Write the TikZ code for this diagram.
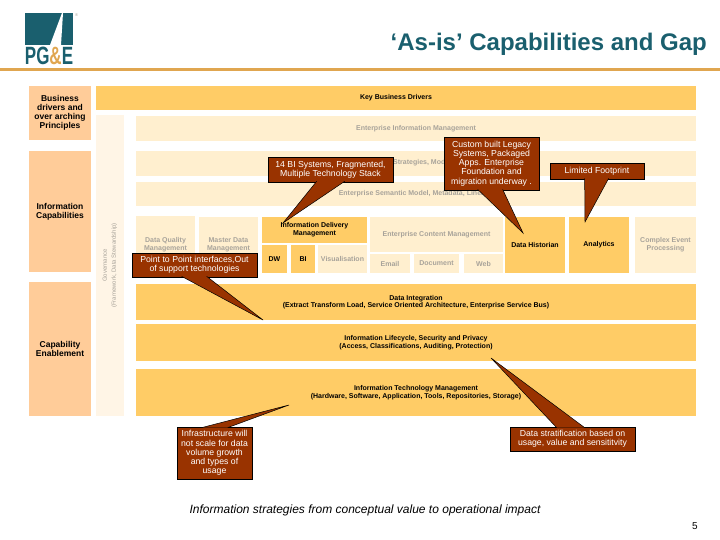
\documentclass[tikz,border=0pt]{standalone}
\usepackage{fontspec}
\setmainfont{Liberation Sans}
\usepackage{xcolor}
\usetikzlibrary{positioning}

\definecolor{teal}{HTML}{1A5F6E}
\definecolor{rule}{HTML}{E0A650}
\definecolor{strong}{HTML}{FFCC66}
\definecolor{pale}{HTML}{FFEFCF}
\definecolor{peach}{HTML}{FFCC99}
\definecolor{palest}{HTML}{FFF5E6}
\definecolor{rust}{HTML}{993300}
\definecolor{fade}{HTML}{A8A39A}

\tikzset{
  box/.style={inner sep=0pt, align=center, font=\fontsize{7}{7.6}\selectfont\bfseries},
  strongbox/.style={box, fill=strong, text=black},
  palebox/.style={box, fill=pale, text=fade},
  sidebox/.style={box, fill=peach, text=black, font=\fontsize{8.5}{9.1}\selectfont\bfseries},
  note/.style={draw=black, line width=.7pt, fill=rust, text=white, inner sep=0pt, align=center,
    font=\fontsize{8.7}{9.2}\selectfont},
  pointer/.style={draw=black, line width=.5pt, fill=rust}
}

\begin{document}
\begin{tikzpicture}[x=1pt, y=-1pt]

\useasboundingbox (0,0) rectangle (720,540);

% header
\fill[rule] (0,67.7) rectangle (720,70.7);
\node[anchor=east, inner sep=0pt, text=teal, font=\fontsize{24}{26}\selectfont\bfseries] (title) at (707,44.5) {‘As-is’ Capabilities and Gap};

% logo
\fill[teal] (25,13) rectangle (73,45);
\fill[white] (62,13) -- (63,13) -- (61,45) -- (50,45) -- cycle;
\node[inner sep=0pt, xscale=.68, font=\fontsize{25}{25}\selectfont\bfseries, text=teal] (logo) at (49,56) {PG\textcolor{rule}{\&}E};
\node[inner sep=0pt, text=fade, font=\fontsize{4}{4}\selectfont] (reg) at (76.5,15) {®};

% left column
\node[sidebox, minimum width=62, minimum height=54] (drivers) at (60,113) {Business\\drivers and\\over arching\\Principles};
\node[sidebox, minimum width=62, minimum height=121] (capabilities) at (60,211.5) {Information\\Capabilities};
\node[sidebox, minimum width=62, minimum height=134] (enablement) at (60,349) {Capability\\Enablement};

% governance
\node[box, fill=palest, minimum width=28, minimum height=301] (governancebox) at (110,265.5) {};
\node[text=fade, inner sep=0pt, align=center, rotate=90, font=\fontsize{6}{9}\selectfont] (governance) at (110,265.5) {Governance\\(Framework, Data Stewardship)};

% wide rows
\node[strongbox, minimum width=600, minimum height=24] (key) at (396,98) {Key Business Drivers};
\node[palebox, minimum width=560, minimum height=25] (eim) at (416,128.5) {Enterprise Information Management};
\node[palebox, minimum width=560, minimum height=25] (strategies) at (416,163.5) {};
\node[text=fade, inner sep=0pt, anchor=west, font=\fontsize{7}{7.6}\selectfont\bfseries] (strategiestext) at (393,163) {Strategies, Mod};
\node[palebox, minimum width=560, minimum height=24] (semantic) at (416,194) {Enterprise Semantic Model, Metadata, Lineage};

% middle row
\node[palebox, minimum width=59, minimum height=57] (quality) at (165.5,244.5) {Data Quality\\Management};
\node[palebox, minimum width=59, minimum height=56] (master) at (228.5,245) {Master Data\\Management};
\node[strongbox, minimum width=105, minimum height=26] (delivery) at (314.5,230) {Information Delivery\\Management};
\node[strongbox, minimum width=25, minimum height=28] (dw) at (274.5,259) {DW};
\node[strongbox, minimum width=24, minimum height=28] (bi) at (303,259) {BI};
\node[palebox, minimum width=49, minimum height=28] (visual) at (342.5,259) {Visualisation};
\node[palebox, minimum width=133, minimum height=35] (ecm) at (436.5,234.5) {Enterprise Content Management};
\node[palebox, minimum width=40, minimum height=19] (email) at (390,263.5) {Email};
\node[palebox, minimum width=45, minimum height=19] (document) at (436.5,263.5) {Document};
\node[palebox, minimum width=39, minimum height=19] (web) at (483.5,263.5) {Web};
\node[strongbox, minimum width=60, minimum height=56] (historian) at (535,245) {Data Historian};
\node[strongbox, minimum width=60, minimum height=56] (analytics) at (599,245) {Analytics};
\node[palebox, minimum width=61, minimum height=56] (event) at (665.5,245) {Complex Event\\Processing};

% lower rows
\node[strongbox, minimum width=560, minimum height=36] (integration) at (416,302) {Data Integration\\(Extract Transform Load, Service Oriented Architecture, Enterprise Service Bus)};
\node[strongbox, minimum width=560, minimum height=37] (lifecycle) at (416,342.5) {Information Lifecycle, Security and Privacy\\(Access, Classifications, Auditing, Protection)};
\node[strongbox, minimum width=560, minimum height=47] (technology) at (416,392.5) {Information Technology Management\\(Hardware, Software, Application, Tools, Repositories, Storage)};

% notes
\node[note, minimum width=125, minimum height=25] (systems) at (330.5,169.5) {14 BI Systems, Fragmented,\\Multiple Technology Stack};
\node[note, minimum width=95, minimum height=53] (legacy) at (491.5,163.5) {Custom built Legacy\\Systems, Packaged\\Apps. Enterprise\\Foundation and\\migration underway .};
\node[note, minimum width=94, minimum height=16] (footprint) at (597,171) {Limited Footprint};
\node[note, minimum width=125, minimum height=24] (interfaces) at (194.5,265) {Point to Point interfaces,Out\\of support technologies};
\node[note, minimum width=75, minimum height=52] (infrastructure) at (214.5,453) {Infrastructure will\\not scale for data\\volume growth\\and types of\\usage};
\node[note, minimum width=125, minimum height=24] (stratification) at (572.5,439) {Data stratification based on\\usage, value and sensititvity};

\coordinate (systemstip) at (283,223);
\coordinate (legacytip) at (523,233);
\coordinate (footprinttip) at (585,222);
\coordinate (interfacestip) at (263,320);
\coordinate (infrastructuretip) at (289,405);
\coordinate (stratificationtip) at (491,358);

\draw[pointer] ([shift={(49,-1)}]systems.south west) -- (systemstip) -- ([shift={(77,-1)}]systems.south west);
\draw[pointer] ([shift={(34,-1)}]legacy.south west) -- (legacytip) -- ([shift={(59,-1)}]legacy.south west);
\draw[pointer] ([shift={(35,-1)}]footprint.south west) -- (footprinttip) -- ([shift={(59,-1)}]footprint.south west);
\draw[pointer] ([shift={(50,-1)}]interfaces.south west) -- (interfacestip) -- ([shift={(75,-1)}]interfaces.south west);
\draw[pointer] ([shift={(25,1)}]infrastructure.north west) -- (infrastructuretip) -- ([shift={(51,1)}]infrastructure.north west);
\draw[pointer] ([shift={(47,1)}]stratification.north west) -- (stratificationtip) -- ([shift={(75,1)}]stratification.north west);

% footer
\node[inner sep=0pt, font=\fontsize{12}{14}\selectfont\itshape] (caption) at (365,510) {Information strategies from conceptual value to operational impact};
\node[inner sep=0pt, font=\fontsize{10}{11}\selectfont] (page) at (695,526) {5};

\end{tikzpicture}
\end{document}
